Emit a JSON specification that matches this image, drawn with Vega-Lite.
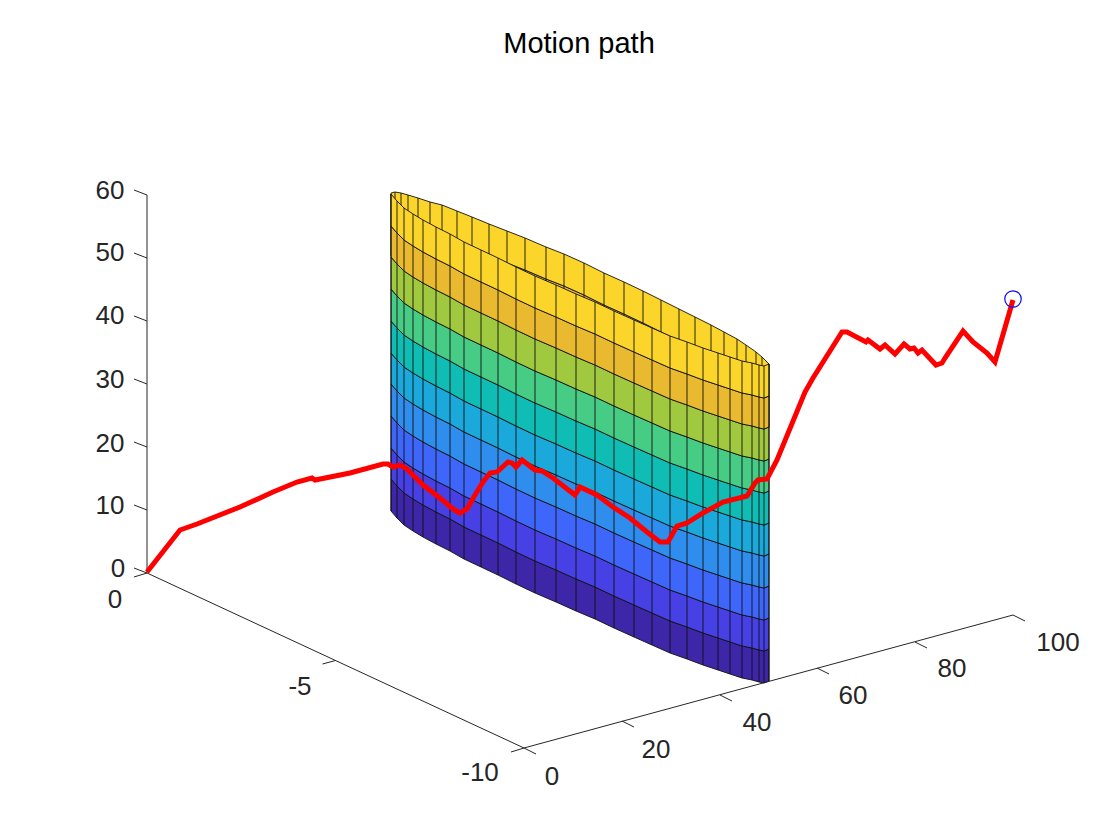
{
  "$schema": "https://vega.github.io/schema/vega-lite/v6.json",
  "width": 1120,
  "height": 840,
  "padding": 0,
  "autosize": {"type": "fit", "contains": "padding"},
  "background": "white",
  "config": {"view": {"stroke": null}},
  "datasets": {
    "back": [
      {"band":8,"x":391,"y":225,"y2":256},{"band":8,"x":395,"y":224,"y2":255},{"band":8,"x":401,"y":225,"y2":256},{"band":8,"x":408,"y":227,"y2":258},{"band":8,"x":418,"y":230,"y2":261},{"band":8,"x":430,"y":234,"y2":265},{"band":8,"x":442,"y":237,"y2":268},{"band":8,"x":457,"y":243,"y2":274},{"band":8,"x":472,"y":249,"y2":280},{"band":8,"x":489,"y":256,"y2":287},{"band":8,"x":507,"y":263,"y2":294},{"band":8,"x":525,"y":270,"y2":301},{"band":8,"x":546,"y":279,"y2":310},{"band":8,"x":564,"y":286,"y2":317},{"band":8,"x":584,"y":295,"y2":326},{"band":8,"x":604,"y":305,"y2":336},{"band":8,"x":624,"y":314,"y2":345},{"band":8,"x":643,"y":323,"y2":354},{"band":8,"x":661,"y":332,"y2":363},{"band":8,"x":679,"y":341,"y2":372},{"band":8,"x":695,"y":349,"y2":380},{"band":8,"x":711,"y":357,"y2":388},{"band":8,"x":724,"y":364,"y2":395},{"band":8,"x":737,"y":371,"y2":402},{"band":8,"x":746,"y":377,"y2":408},{"band":8,"x":756,"y":384,"y2":415},{"band":8,"x":762,"y":389,"y2":420},{"band":8,"x":769,"y":396,"y2":427},
      {"band":9,"x":391,"y":193,"y2":225},{"band":9,"x":395,"y":192,"y2":224},{"band":9,"x":401,"y":193,"y2":225},{"band":9,"x":408,"y":195,"y2":227},{"band":9,"x":418,"y":198,"y2":230},{"band":9,"x":430,"y":202,"y2":234},{"band":9,"x":442,"y":205,"y2":237},{"band":9,"x":457,"y":211,"y2":243},{"band":9,"x":472,"y":217,"y2":249},{"band":9,"x":489,"y":224,"y2":256},{"band":9,"x":507,"y":231,"y2":263},{"band":9,"x":525,"y":238,"y2":270},{"band":9,"x":546,"y":247,"y2":279},{"band":9,"x":564,"y":254,"y2":286},{"band":9,"x":584,"y":263,"y2":295},{"band":9,"x":604,"y":273,"y2":305},{"band":9,"x":624,"y":282,"y2":314},{"band":9,"x":643,"y":291,"y2":323},{"band":9,"x":661,"y":300,"y2":332},{"band":9,"x":679,"y":309,"y2":341},{"band":9,"x":695,"y":317,"y2":349},{"band":9,"x":711,"y":325,"y2":357},{"band":9,"x":724,"y":332,"y2":364},{"band":9,"x":737,"y":339,"y2":371},{"band":9,"x":746,"y":345,"y2":377},{"band":9,"x":756,"y":352,"y2":384},{"band":9,"x":762,"y":357,"y2":389},{"band":9,"x":769,"y":364,"y2":396}
    ],
    "backEdges": [
      {"x":395,"y":192,"y2":255},{"x":401,"y":193,"y2":256},{"x":408,"y":195,"y2":258},{"x":418,"y":198,"y2":261},{"x":430,"y":202,"y2":265},{"x":442,"y":205,"y2":268},{"x":457,"y":211,"y2":274},{"x":472,"y":217,"y2":280},{"x":489,"y":224,"y2":287},{"x":507,"y":231,"y2":294},{"x":525,"y":238,"y2":301},{"x":546,"y":247,"y2":310},{"x":564,"y":254,"y2":317},{"x":584,"y":263,"y2":326},{"x":604,"y":273,"y2":336},{"x":624,"y":282,"y2":345},{"x":643,"y":291,"y2":354},{"x":661,"y":300,"y2":363},{"x":679,"y":309,"y2":372},{"x":695,"y":317,"y2":380},{"x":711,"y":325,"y2":388},{"x":724,"y":332,"y2":395},{"x":737,"y":339,"y2":402},{"x":746,"y":345,"y2":408},{"x":756,"y":352,"y2":415},{"x":762,"y":357,"y2":420}
    ],
    "front": [
      {"band":0,"x":391,"y":479,"y2":511},{"band":0,"x":397,"y":486,"y2":518},{"band":0,"x":404,"y":493,"y2":525},{"band":0,"x":413,"y":499,"y2":531},{"band":0,"x":423,"y":505,"y2":537},{"band":0,"x":436,"y":512,"y2":544},{"band":0,"x":450,"y":519,"y2":551},{"band":0,"x":464,"y":527,"y2":559},{"band":0,"x":481,"y":535,"y2":567},{"band":0,"x":498,"y":543,"y2":575},{"band":0,"x":516,"y":552,"y2":584},{"band":0,"x":535,"y":561,"y2":593},{"band":0,"x":556,"y":570,"y2":602},{"band":0,"x":576,"y":579,"y2":611},{"band":0,"x":595,"y":587,"y2":619},{"band":0,"x":614,"y":596,"y2":628},{"band":0,"x":634,"y":605,"y2":637},{"band":0,"x":652,"y":613,"y2":645},{"band":0,"x":670,"y":621,"y2":653},{"band":0,"x":687,"y":627,"y2":659},{"band":0,"x":703,"y":633,"y2":665},{"band":0,"x":718,"y":638,"y2":670},{"band":0,"x":730,"y":642,"y2":674},{"band":0,"x":742,"y":646,"y2":678},{"band":0,"x":752,"y":648,"y2":680},{"band":0,"x":759,"y":650,"y2":682},{"band":0,"x":764,"y":651,"y2":683},{"band":0,"x":769,"y":649,"y2":681},
      {"band":1,"x":391,"y":448,"y2":479},{"band":1,"x":397,"y":455,"y2":486},{"band":1,"x":404,"y":462,"y2":493},{"band":1,"x":413,"y":468,"y2":499},{"band":1,"x":423,"y":474,"y2":505},{"band":1,"x":436,"y":481,"y2":512},{"band":1,"x":450,"y":488,"y2":519},{"band":1,"x":464,"y":496,"y2":527},{"band":1,"x":481,"y":504,"y2":535},{"band":1,"x":498,"y":512,"y2":543},{"band":1,"x":516,"y":521,"y2":552},{"band":1,"x":535,"y":530,"y2":561},{"band":1,"x":556,"y":539,"y2":570},{"band":1,"x":576,"y":548,"y2":579},{"band":1,"x":595,"y":556,"y2":587},{"band":1,"x":614,"y":565,"y2":596},{"band":1,"x":634,"y":574,"y2":605},{"band":1,"x":652,"y":582,"y2":613},{"band":1,"x":670,"y":590,"y2":621},{"band":1,"x":687,"y":596,"y2":627},{"band":1,"x":703,"y":602,"y2":633},{"band":1,"x":718,"y":607,"y2":638},{"band":1,"x":730,"y":611,"y2":642},{"band":1,"x":742,"y":615,"y2":646},{"band":1,"x":752,"y":617,"y2":648},{"band":1,"x":759,"y":619,"y2":650},{"band":1,"x":764,"y":620,"y2":651},{"band":1,"x":769,"y":618,"y2":649},
      {"band":2,"x":391,"y":416,"y2":448},{"band":2,"x":397,"y":423,"y2":455},{"band":2,"x":404,"y":430,"y2":462},{"band":2,"x":413,"y":436,"y2":468},{"band":2,"x":423,"y":442,"y2":474},{"band":2,"x":436,"y":449,"y2":481},{"band":2,"x":450,"y":456,"y2":488},{"band":2,"x":464,"y":464,"y2":496},{"band":2,"x":481,"y":472,"y2":504},{"band":2,"x":498,"y":480,"y2":512},{"band":2,"x":516,"y":489,"y2":521},{"band":2,"x":535,"y":498,"y2":530},{"band":2,"x":556,"y":507,"y2":539},{"band":2,"x":576,"y":516,"y2":548},{"band":2,"x":595,"y":524,"y2":556},{"band":2,"x":614,"y":533,"y2":565},{"band":2,"x":634,"y":542,"y2":574},{"band":2,"x":652,"y":550,"y2":582},{"band":2,"x":670,"y":558,"y2":590},{"band":2,"x":687,"y":564,"y2":596},{"band":2,"x":703,"y":570,"y2":602},{"band":2,"x":718,"y":575,"y2":607},{"band":2,"x":730,"y":579,"y2":611},{"band":2,"x":742,"y":583,"y2":615},{"band":2,"x":752,"y":585,"y2":617},{"band":2,"x":759,"y":587,"y2":619},{"band":2,"x":764,"y":588,"y2":620},{"band":2,"x":769,"y":586,"y2":618},
      {"band":3,"x":391,"y":384,"y2":416},{"band":3,"x":397,"y":391,"y2":423},{"band":3,"x":404,"y":398,"y2":430},{"band":3,"x":413,"y":404,"y2":436},{"band":3,"x":423,"y":410,"y2":442},{"band":3,"x":436,"y":417,"y2":449},{"band":3,"x":450,"y":424,"y2":456},{"band":3,"x":464,"y":432,"y2":464},{"band":3,"x":481,"y":440,"y2":472},{"band":3,"x":498,"y":448,"y2":480},{"band":3,"x":516,"y":457,"y2":489},{"band":3,"x":535,"y":466,"y2":498},{"band":3,"x":556,"y":475,"y2":507},{"band":3,"x":576,"y":484,"y2":516},{"band":3,"x":595,"y":492,"y2":524},{"band":3,"x":614,"y":501,"y2":533},{"band":3,"x":634,"y":510,"y2":542},{"band":3,"x":652,"y":518,"y2":550},{"band":3,"x":670,"y":526,"y2":558},{"band":3,"x":687,"y":532,"y2":564},{"band":3,"x":703,"y":538,"y2":570},{"band":3,"x":718,"y":543,"y2":575},{"band":3,"x":730,"y":547,"y2":579},{"band":3,"x":742,"y":551,"y2":583},{"band":3,"x":752,"y":553,"y2":585},{"band":3,"x":759,"y":555,"y2":587},{"band":3,"x":764,"y":556,"y2":588},{"band":3,"x":769,"y":554,"y2":586},
      {"band":4,"x":391,"y":353,"y2":384},{"band":4,"x":397,"y":360,"y2":391},{"band":4,"x":404,"y":367,"y2":398},{"band":4,"x":413,"y":373,"y2":404},{"band":4,"x":423,"y":379,"y2":410},{"band":4,"x":436,"y":386,"y2":417},{"band":4,"x":450,"y":393,"y2":424},{"band":4,"x":464,"y":401,"y2":432},{"band":4,"x":481,"y":409,"y2":440},{"band":4,"x":498,"y":417,"y2":448},{"band":4,"x":516,"y":426,"y2":457},{"band":4,"x":535,"y":435,"y2":466},{"band":4,"x":556,"y":444,"y2":475},{"band":4,"x":576,"y":453,"y2":484},{"band":4,"x":595,"y":461,"y2":492},{"band":4,"x":614,"y":470,"y2":501},{"band":4,"x":634,"y":479,"y2":510},{"band":4,"x":652,"y":487,"y2":518},{"band":4,"x":670,"y":495,"y2":526},{"band":4,"x":687,"y":501,"y2":532},{"band":4,"x":703,"y":507,"y2":538},{"band":4,"x":718,"y":512,"y2":543},{"band":4,"x":730,"y":516,"y2":547},{"band":4,"x":742,"y":520,"y2":551},{"band":4,"x":752,"y":522,"y2":553},{"band":4,"x":759,"y":524,"y2":555},{"band":4,"x":764,"y":525,"y2":556},{"band":4,"x":769,"y":523,"y2":554},
      {"band":5,"x":391,"y":321,"y2":353},{"band":5,"x":397,"y":328,"y2":360},{"band":5,"x":404,"y":335,"y2":367},{"band":5,"x":413,"y":341,"y2":373},{"band":5,"x":423,"y":347,"y2":379},{"band":5,"x":436,"y":354,"y2":386},{"band":5,"x":450,"y":361,"y2":393},{"band":5,"x":464,"y":369,"y2":401},{"band":5,"x":481,"y":377,"y2":409},{"band":5,"x":498,"y":385,"y2":417},{"band":5,"x":516,"y":394,"y2":426},{"band":5,"x":535,"y":403,"y2":435},{"band":5,"x":556,"y":412,"y2":444},{"band":5,"x":576,"y":421,"y2":453},{"band":5,"x":595,"y":429,"y2":461},{"band":5,"x":614,"y":438,"y2":470},{"band":5,"x":634,"y":447,"y2":479},{"band":5,"x":652,"y":455,"y2":487},{"band":5,"x":670,"y":463,"y2":495},{"band":5,"x":687,"y":469,"y2":501},{"band":5,"x":703,"y":475,"y2":507},{"band":5,"x":718,"y":480,"y2":512},{"band":5,"x":730,"y":484,"y2":516},{"band":5,"x":742,"y":488,"y2":520},{"band":5,"x":752,"y":490,"y2":522},{"band":5,"x":759,"y":492,"y2":524},{"band":5,"x":764,"y":493,"y2":525},{"band":5,"x":769,"y":491,"y2":523},
      {"band":6,"x":391,"y":289,"y2":321},{"band":6,"x":397,"y":296,"y2":328},{"band":6,"x":404,"y":303,"y2":335},{"band":6,"x":413,"y":309,"y2":341},{"band":6,"x":423,"y":315,"y2":347},{"band":6,"x":436,"y":322,"y2":354},{"band":6,"x":450,"y":329,"y2":361},{"band":6,"x":464,"y":337,"y2":369},{"band":6,"x":481,"y":345,"y2":377},{"band":6,"x":498,"y":353,"y2":385},{"band":6,"x":516,"y":362,"y2":394},{"band":6,"x":535,"y":371,"y2":403},{"band":6,"x":556,"y":380,"y2":412},{"band":6,"x":576,"y":389,"y2":421},{"band":6,"x":595,"y":397,"y2":429},{"band":6,"x":614,"y":406,"y2":438},{"band":6,"x":634,"y":415,"y2":447},{"band":6,"x":652,"y":423,"y2":455},{"band":6,"x":670,"y":431,"y2":463},{"band":6,"x":687,"y":437,"y2":469},{"band":6,"x":703,"y":443,"y2":475},{"band":6,"x":718,"y":448,"y2":480},{"band":6,"x":730,"y":452,"y2":484},{"band":6,"x":742,"y":456,"y2":488},{"band":6,"x":752,"y":458,"y2":490},{"band":6,"x":759,"y":460,"y2":492},{"band":6,"x":764,"y":461,"y2":493},{"band":6,"x":769,"y":459,"y2":491},
      {"band":7,"x":391,"y":257,"y2":289},{"band":7,"x":397,"y":264,"y2":296},{"band":7,"x":404,"y":271,"y2":303},{"band":7,"x":413,"y":277,"y2":309},{"band":7,"x":423,"y":283,"y2":315},{"band":7,"x":436,"y":290,"y2":322},{"band":7,"x":450,"y":297,"y2":329},{"band":7,"x":464,"y":305,"y2":337},{"band":7,"x":481,"y":313,"y2":345},{"band":7,"x":498,"y":321,"y2":353},{"band":7,"x":516,"y":330,"y2":362},{"band":7,"x":535,"y":339,"y2":371},{"band":7,"x":556,"y":348,"y2":380},{"band":7,"x":576,"y":357,"y2":389},{"band":7,"x":595,"y":365,"y2":397},{"band":7,"x":614,"y":374,"y2":406},{"band":7,"x":634,"y":383,"y2":415},{"band":7,"x":652,"y":391,"y2":423},{"band":7,"x":670,"y":399,"y2":431},{"band":7,"x":687,"y":405,"y2":437},{"band":7,"x":703,"y":411,"y2":443},{"band":7,"x":718,"y":416,"y2":448},{"band":7,"x":730,"y":420,"y2":452},{"band":7,"x":742,"y":424,"y2":456},{"band":7,"x":752,"y":426,"y2":458},{"band":7,"x":759,"y":428,"y2":460},{"band":7,"x":764,"y":429,"y2":461},{"band":7,"x":769,"y":427,"y2":459},
      {"band":8,"x":391,"y":226,"y2":257},{"band":8,"x":397,"y":233,"y2":264},{"band":8,"x":404,"y":240,"y2":271},{"band":8,"x":413,"y":246,"y2":277},{"band":8,"x":423,"y":252,"y2":283},{"band":8,"x":436,"y":259,"y2":290},{"band":8,"x":450,"y":266,"y2":297},{"band":8,"x":464,"y":274,"y2":305},{"band":8,"x":481,"y":282,"y2":313},{"band":8,"x":498,"y":290,"y2":321},{"band":8,"x":516,"y":299,"y2":330},{"band":8,"x":535,"y":308,"y2":339},{"band":8,"x":556,"y":317,"y2":348},{"band":8,"x":576,"y":326,"y2":357},{"band":8,"x":595,"y":334,"y2":365},{"band":8,"x":614,"y":343,"y2":374},{"band":8,"x":634,"y":352,"y2":383},{"band":8,"x":652,"y":360,"y2":391},{"band":8,"x":670,"y":368,"y2":399},{"band":8,"x":687,"y":374,"y2":405},{"band":8,"x":703,"y":380,"y2":411},{"band":8,"x":718,"y":385,"y2":416},{"band":8,"x":730,"y":389,"y2":420},{"band":8,"x":742,"y":393,"y2":424},{"band":8,"x":752,"y":395,"y2":426},{"band":8,"x":759,"y":397,"y2":428},{"band":8,"x":764,"y":398,"y2":429},{"band":8,"x":769,"y":396,"y2":427},
      {"band":9,"x":391,"y":194,"y2":226},{"band":9,"x":397,"y":201,"y2":233},{"band":9,"x":404,"y":208,"y2":240},{"band":9,"x":413,"y":214,"y2":246},{"band":9,"x":423,"y":220,"y2":252},{"band":9,"x":436,"y":227,"y2":259},{"band":9,"x":450,"y":234,"y2":266},{"band":9,"x":464,"y":242,"y2":274},{"band":9,"x":481,"y":250,"y2":282},{"band":9,"x":498,"y":258,"y2":290},{"band":9,"x":516,"y":267,"y2":299},{"band":9,"x":535,"y":276,"y2":308},{"band":9,"x":556,"y":285,"y2":317},{"band":9,"x":576,"y":294,"y2":326},{"band":9,"x":595,"y":302,"y2":334},{"band":9,"x":614,"y":311,"y2":343},{"band":9,"x":634,"y":320,"y2":352},{"band":9,"x":652,"y":328,"y2":360},{"band":9,"x":670,"y":336,"y2":368},{"band":9,"x":687,"y":342,"y2":374},{"band":9,"x":703,"y":348,"y2":380},{"band":9,"x":718,"y":353,"y2":385},{"band":9,"x":730,"y":357,"y2":389},{"band":9,"x":742,"y":361,"y2":393},{"band":9,"x":752,"y":363,"y2":395},{"band":9,"x":759,"y":365,"y2":397},{"band":9,"x":764,"y":366,"y2":398},{"band":9,"x":769,"y":364,"y2":396}
    ],
    "frontEdges": [
      {"x":391,"y":194,"y2":511},{"x":397,"y":201,"y2":518},{"x":404,"y":208,"y2":525},{"x":413,"y":214,"y2":531},{"x":423,"y":220,"y2":537},{"x":436,"y":227,"y2":544},{"x":450,"y":234,"y2":551},{"x":464,"y":242,"y2":559},{"x":481,"y":250,"y2":567},{"x":498,"y":258,"y2":575},{"x":516,"y":267,"y2":584},{"x":535,"y":276,"y2":593},{"x":556,"y":285,"y2":602},{"x":576,"y":294,"y2":611},{"x":595,"y":302,"y2":619},{"x":614,"y":311,"y2":628},{"x":634,"y":320,"y2":637},{"x":652,"y":328,"y2":645},{"x":670,"y":336,"y2":653},{"x":687,"y":342,"y2":659},{"x":703,"y":348,"y2":665},{"x":718,"y":353,"y2":670},{"x":730,"y":357,"y2":674},{"x":742,"y":361,"y2":678},{"x":752,"y":363,"y2":680},{"x":759,"y":365,"y2":682},{"x":764,"y":366,"y2":683},{"x":769,"y":364,"y2":681}
    ],
    "axes": [
      {"x":147,"y":195,"x2":147,"y2":573},{"x":147,"y":573,"x2":524,"y2":748},{"x":524,"y":748,"x2":1013,"y2":615},
      {"x":147,"y":195,"x2":134,"y2":190},{"x":147,"y":258,"x2":134,"y2":253},{"x":147,"y":321,"x2":134,"y2":316},{"x":147,"y":384,"x2":134,"y2":379},{"x":147,"y":447,"x2":134,"y2":442},{"x":147,"y":510,"x2":134,"y2":505},{"x":147,"y":573,"x2":134,"y2":568},
      {"x":147,"y":573,"x2":134,"y2":577},{"x":335.5,"y":660.5,"x2":322.5,"y2":664},{"x":524,"y":748,"x2":511,"y2":752},
      {"x":524,"y":748,"x2":536,"y2":754},{"x":622,"y":721,"x2":634,"y2":727},{"x":720,"y":695,"x2":732,"y2":701},{"x":817,"y":668,"x2":829,"y2":674},{"x":915,"y":642,"x2":927,"y2":648},{"x":1013,"y":615,"x2":1025,"y2":621}
    ],
    "labels": [
      {"x":110,"y":191,"label":"60"},{"x":110,"y":253,"label":"50"},{"x":110,"y":316,"label":"40"},{"x":110,"y":380,"label":"30"},{"x":110,"y":444,"label":"20"},{"x":110,"y":506,"label":"10"},{"x":118,"y":569,"label":"0"},
      {"x":115,"y":600,"label":"0"},{"x":300,"y":687,"label":"-5"},{"x":480,"y":773,"label":"-10"},
      {"x":552,"y":777,"label":"0"},{"x":656,"y":750,"label":"20"},{"x":757,"y":723,"label":"40"},{"x":853,"y":696,"label":"60"},{"x":952,"y":669,"label":"80"},{"x":1058,"y":643,"label":"100"}
    ],
    "path": [
      {"i":0,"x":147,"y":572},{"i":1,"x":180,"y":530},{"i":2,"x":197,"y":524},{"i":3,"x":240,"y":507},{"i":4,"x":273,"y":492},{"i":5,"x":297,"y":482},{"i":6,"x":312,"y":478},{"i":7,"x":315,"y":480},{"i":8,"x":350,"y":473},{"i":9,"x":383,"y":464},{"i":10,"x":388,"y":464},{"i":11,"x":393,"y":467},{"i":12,"x":400,"y":465},{"i":13,"x":407,"y":469},{"i":14,"x":423,"y":485},{"i":15,"x":440,"y":498},{"i":16,"x":453,"y":509},{"i":17,"x":460,"y":513},{"i":18,"x":467,"y":509},{"i":19,"x":475,"y":495},{"i":20,"x":483,"y":482},{"i":21,"x":490,"y":473},{"i":22,"x":497,"y":472},{"i":23,"x":508,"y":462},{"i":24,"x":512,"y":463},{"i":25,"x":516,"y":467},{"i":26,"x":522,"y":460},{"i":27,"x":535,"y":470},{"i":28,"x":542,"y":471},{"i":29,"x":553,"y":478},{"i":30,"x":575,"y":495},{"i":31,"x":580,"y":487},{"i":32,"x":597,"y":495},{"i":33,"x":613,"y":507},{"i":34,"x":630,"y":518},{"i":35,"x":647,"y":532},{"i":36,"x":660,"y":542},{"i":37,"x":668,"y":542},{"i":38,"x":677,"y":526},{"i":39,"x":687,"y":523},{"i":40,"x":703,"y":513},{"i":41,"x":723,"y":502},{"i":42,"x":747,"y":496},{"i":43,"x":755,"y":483},{"i":44,"x":758,"y":480},{"i":45,"x":767,"y":479},{"i":46,"x":777,"y":460},{"i":47,"x":805,"y":392},{"i":48,"x":813,"y":378},{"i":49,"x":842,"y":332},{"i":50,"x":847,"y":332},{"i":51,"x":866,"y":342},{"i":52,"x":868,"y":340},{"i":53,"x":880,"y":349},{"i":54,"x":885,"y":345},{"i":55,"x":895,"y":354},{"i":56,"x":904,"y":344},{"i":57,"x":910,"y":349},{"i":58,"x":914,"y":348},{"i":59,"x":918,"y":353},{"i":60,"x":922,"y":350},{"i":61,"x":936,"y":365},{"i":62,"x":942,"y":363},{"i":63,"x":945,"y":358},{"i":64,"x":963,"y":331},{"i":65,"x":973,"y":342},{"i":66,"x":987,"y":353},{"i":67,"x":995,"y":362},{"i":68,"x":1013,"y":300}
    ],
    "end": [{"x":1013,"y":299}],
    "heading": [{"x":579,"y":44,"label":"Motion path"}]
  },
  "encoding": {
    "x": {"field": "x", "type": "quantitative", "scale": {"domain": [0, 1120]}, "axis": null},
    "y": {"field": "y", "type": "quantitative", "scale": {"domain": [840, 0]}, "axis": null}
  },
  "layer": [
    {
      "data": {"name": "back"},
      "mark": {"type": "area", "stroke": "#111111", "strokeWidth": 0.9, "opacity": 1},
      "encoding": {
        "y2": {"field": "y2"},
        "color": {
          "field": "band",
          "type": "ordinal",
          "legend": null,
          "scale": {
            "domain": [0, 1, 2, 3, 4, 5, 6, 7, 8, 9],
            "range": ["#3d26a8", "#4640e5", "#3f66fb", "#2f8ded", "#1ba9db", "#0fbdb4", "#47cc86", "#a0c93f", "#e9b92f", "#fcd52b"]
          }
        }
      }
    },
    {
      "data": {"name": "backEdges"},
      "mark": {"type": "rule", "color": "#111111", "strokeWidth": 0.9},
      "encoding": {"y2": {"field": "y2"}}
    },
    {
      "data": {"name": "front"},
      "mark": {"type": "area", "stroke": "#111111", "strokeWidth": 0.9, "opacity": 1},
      "encoding": {
        "y2": {"field": "y2"},
        "color": {"field": "band", "type": "ordinal", "legend": null}
      }
    },
    {
      "data": {"name": "frontEdges"},
      "mark": {"type": "rule", "color": "#111111", "strokeWidth": 0.9},
      "encoding": {"y2": {"field": "y2"}}
    },
    {
      "data": {"name": "axes"},
      "mark": {"type": "rule", "color": "#262626", "strokeWidth": 1},
      "encoding": {"x2": {"field": "x2"}, "y2": {"field": "y2"}}
    },
    {
      "data": {"name": "path"},
      "mark": {"type": "line", "color": "#ff0000", "strokeWidth": 5, "strokeJoin": "miter"},
      "encoding": {"order": {"field": "i", "type": "quantitative"}}
    },
    {
      "data": {"name": "end"},
      "mark": {"type": "point", "shape": "circle", "filled": false, "color": "#0000ff", "size": 270, "strokeWidth": 1.2, "opacity": 1}
    },
    {
      "data": {"name": "labels"},
      "mark": {"type": "text", "font": "Liberation Sans", "fontSize": 26, "color": "#262626", "align": "center", "baseline": "middle"},
      "encoding": {"text": {"field": "label"}}
    },
    {
      "data": {"name": "heading"},
      "mark": {"type": "text", "font": "Liberation Sans", "fontSize": 29, "color": "#000000", "align": "center", "baseline": "middle"},
      "encoding": {"text": {"field": "label"}}
    }
  ]
}
